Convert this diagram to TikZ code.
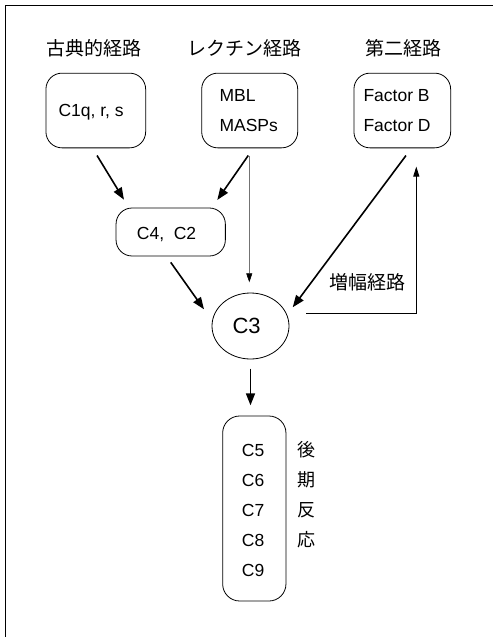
\documentclass[tikz,border=0pt]{standalone}
\usepackage{fontspec}
\setmainfont{Liberation Sans}
\newfontfamily\jp{Noto Sans CJK JP}
\usetikzlibrary{arrows.meta,shapes.geometric,calc}
\begin{document}
\begin{tikzpicture}[x=1pt,y=-1pt,
  box/.style={draw, line width=0.8pt, rounded corners=16pt, inner sep=0pt},
  lab/.style={inner sep=0pt, anchor=base west, font=\fontsize{17.5}{21}\selectfont},
  jlab/.style={inner sep=0pt, font=\fontsize{19}{22}\jp},
  arr/.style={line width=1.6pt, -{Triangle[length=12pt,width=9pt]}},
  thinarr/.style={line width=0.6pt, draw=black!55, -{Triangle[length=9pt,width=6pt,color=black]}},
  fbarr/.style={line width=0.9pt, -{Triangle[length=10pt,width=6pt]}}]
\useasboundingbox (0,0) rectangle (493,637);
\fill[white] (0,0) rectangle (493,637);
% frame (extends beyond the picture)
\draw[line width=0.9pt] (5.5,637) -- (5.5,5.5) -- (493,5.5);

% titles
\node[jlab] (t1) at (94,48.5) {古典的経路};
\node[jlab] (t2) at (244,48.5) {レクチン経路};
\node[jlab] (t3) at (403,48.5) {第二経路};

% boxes
\node[box, minimum width=99.7pt, minimum height=74.7pt] (b1) at (95.8,110.5) {};
\node[box, minimum width=96pt, minimum height=74.7pt] (b2) at (249.7,110.5) {};
\node[box, minimum width=96.7pt, minimum height=74.7pt] (b3) at (402.3,110.5) {};
\node[box, minimum width=109.3pt, minimum height=48pt] (c4) at (170.7,232) {};
\node[draw, ellipse, line width=0.8pt, inner sep=0pt, minimum width=77pt, minimum height=66pt] (c3) at (250.5,326) {};
\node[box, rounded corners=17pt, minimum width=63.3pt, minimum height=185pt] (c5) at (254.3,508.5) {};

% texts
\node[lab] (l1) at (58.3,116) {C1q, r, s};
\node[lab] (l2a) at (219.3,101) {MBL};
\node[lab] (l2b) at (219.3,131) {MASPs};
\node[lab] (l3a) at (363.3,101) {Factor B};
\node[lab] (l3b) at (363.3,131) {Factor D};
\node[lab] (l4) at (136.7,239.3) {C4,\ \ C2};
\node[lab, font=\fontsize{22}{26}\selectfont] (l5) at (232.3,333.3) {C3};
\node[lab] (k5) at (241.7,456) {C5};
\node[lab] (k6) at (241.7,486) {C6};
\node[lab] (k7) at (241.7,516) {C7};
\node[lab] (k8) at (241.7,546) {C8};
\node[lab] (k9) at (241.7,576) {C9};
\node[jlab, font=\fontsize{18}{22}\jp] (j1) at (306,450) {後};
\node[jlab, font=\fontsize{18}{22}\jp] (j2) at (306,480) {期};
\node[jlab, font=\fontsize{18}{22}\jp] (j3) at (306,510) {反};
\node[jlab, font=\fontsize{18}{22}\jp] (j4) at (306,540) {応};
\node[jlab] (amp) at (367.5,282.5) {増幅経路};

% connectors
\draw[arr, shorten <=8.5pt, shorten >=9.3pt] ($(b1.south)+(-3.2,0)$) -- ($(c4.north)+(-41.9,0)$);
\draw[arr, shorten <=8.8pt, shorten >=9.3pt] ($(b2.south)+(3.6,0)$) -- ($(c4.north)+(41.3,0)$);
\draw[thinarr, shorten <=7.3pt, shorten >=10.3pt] ($(b2.south)+(-0.4,0)$) -- ($(c3.north)+(-1.2,0)$);
\draw[arr, shorten <=7.3pt] ($(c4.south)+(-4.2,0)$) -- ($(c3.center)+(-46.5,-16.7)$);
\draw[arr, shorten <=9.1pt] ($(b3.south)+(9.1,0)$) -- ($(c3.center)+(42.2,-18.7)$);
\draw[fbarr, shorten >=18.3pt] ($(c3.center)+(55.5,-12.7)$) -| ($(b3.south)+(14,0)$);
\draw[arr, shorten <=9.3pt, shorten >=10.3pt] (c3.south) -- (c3.south |- c5.north);
\end{tikzpicture}
\end{document}
